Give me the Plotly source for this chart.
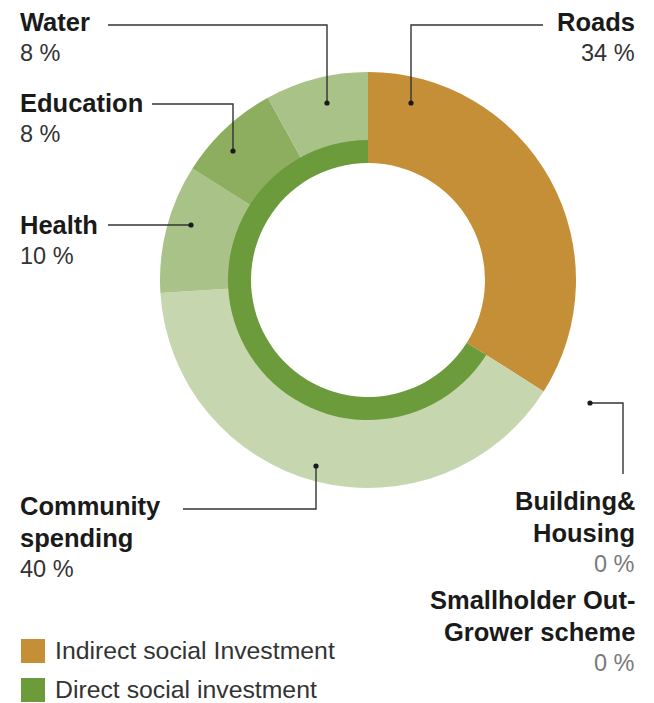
import plotly.graph_objects as go

# ---------------- data ----------------
categories = ["Roads", "Building&<br>Housing", "Smallholder Out-<br>Grower scheme",
              "Community<br>spending", "Health", "Education", "Water"]
shares = [34, 0, 0, 40, 10, 8, 8]
investment_types = ["Indirect social Investment", "Direct social investment"]
investment_shares = [34, 66]

# ---------------- style ----------------
W, H = 654, 703
ORANGE = "#C58F37"
GREEN = "#6B9B3A"
outer_colors = [ORANGE, ORANGE, ORANGE, "#C6D6AF", "#A9C287", "#8CAE5E", "#A9C287"]
inner_colors = [ORANGE, GREEN]
FONT = "Liberation Sans"
LINE = "#333333"
cx, cy = 368, 280
R_OUT, R_MID, R_IN = 208, 140, 117


def px(x):
    return x / W


def py(y):
    return 1 - y / H


def dom(r):
    return dict(x=[px(cx - r), px(cx + r)], y=[py(cy + r), py(cy - r)])


fig = go.Figure()
fig.add_trace(go.Pie(
    labels=categories, values=shares, sort=False, direction="clockwise", rotation=0,
    hole=(R_MID - 3) / R_OUT, domain=dom(R_OUT), textinfo="none", hoverinfo="label+percent",
    marker=dict(colors=outer_colors, line=dict(width=0)), showlegend=False,
))
fig.add_trace(go.Pie(
    labels=investment_types, values=investment_shares, sort=False, direction="clockwise",
    rotation=0, hole=R_IN / R_MID, domain=dom(R_MID), textinfo="none",
    hoverinfo="label+percent", marker=dict(colors=inner_colors, line=dict(width=0)),
    showlegend=False,
))

annotations = []
shapes = []


def text(x, y_top, s, size, color, bold, anchor):
    annotations.append(dict(
        x=px(x), y=py(y_top), xref="paper", yref="paper", text=s, showarrow=False,
        xanchor=anchor, yanchor="top", align=anchor,
        font=dict(family=FONT, size=size, color=color,
                  weight=700 if bold else 400),
    ))


def label(idx, x, y_top, anchor, pct_color="#333333"):
    parts = categories[idx].split("<br>")
    y = y_top
    for p in parts:
        text(x, y, "<b>" + p + "</b>", 25.5, "#1a1a1a", True, anchor)
        y += 32
    text(x, y, f"{shares[idx]} %", 23.5, pct_color, False, anchor)
    return y + 32


def leader(points):
    path = "M " + " L ".join(f"{px(x)},{py(y)}" for x, y in points)
    shapes.append(dict(type="path", path=path, xref="paper", yref="paper",
                       line=dict(color=LINE, width=1.4)))
    x, y = points[-1]
    r = 2.6
    shapes.append(dict(type="circle", xref="paper", yref="paper",
                       x0=px(x - r), x1=px(x + r), y0=py(y + r), y1=py(y - r),
                       fillcolor="#1a1a1a", line=dict(width=0)))


OFF = 7  # box top above cap-top
# left side labels
label(6, 18, 13 - OFF, "left")
label(5, 18, 94 - OFF, "left")
label(4, 18, 216 - OFF, "left")
label(3, 18, 497 - OFF, "left")
# right side labels
label(0, 637, 13 - OFF, "right")
label(1, 637, 492 - OFF, "right", pct_color="#7a7a7a")
label(2, 637, 591 - OFF, "right", pct_color="#7a7a7a")

leader([(108, 25), (327, 25), (327, 103)])
leader([(152, 104), (233, 104), (233, 151)])
leader([(108, 225), (191, 225)])
leader([(543, 25), (411, 25), (411, 103)])
leader([(183, 509), (316, 509), (316, 466)])
leader([(623, 474), (623, 403), (590, 403)])

# legend
for i, (name, col) in enumerate(zip(investment_types, inner_colors)):
    y0 = 639 + i * 39
    shapes.append(dict(type="rect", xref="paper", yref="paper",
                       x0=px(21), x1=px(45), y0=py(y0 + 24), y1=py(y0),
                       fillcolor=col, line=dict(width=0)))
    text(53, y0 + 3 - OFF, name, 24.8, "#333333", False, "left")

fig.update_layout(
    width=W, height=H, margin=dict(l=0, r=0, t=0, b=0),
    paper_bgcolor="white", plot_bgcolor="white",
    annotations=annotations, shapes=shapes, showlegend=False,
)
fig.write_html("out.html", config={"displayModeBar": False},
               post_script="document.body.style.margin='0';document.body.style.overflow='hidden';")
